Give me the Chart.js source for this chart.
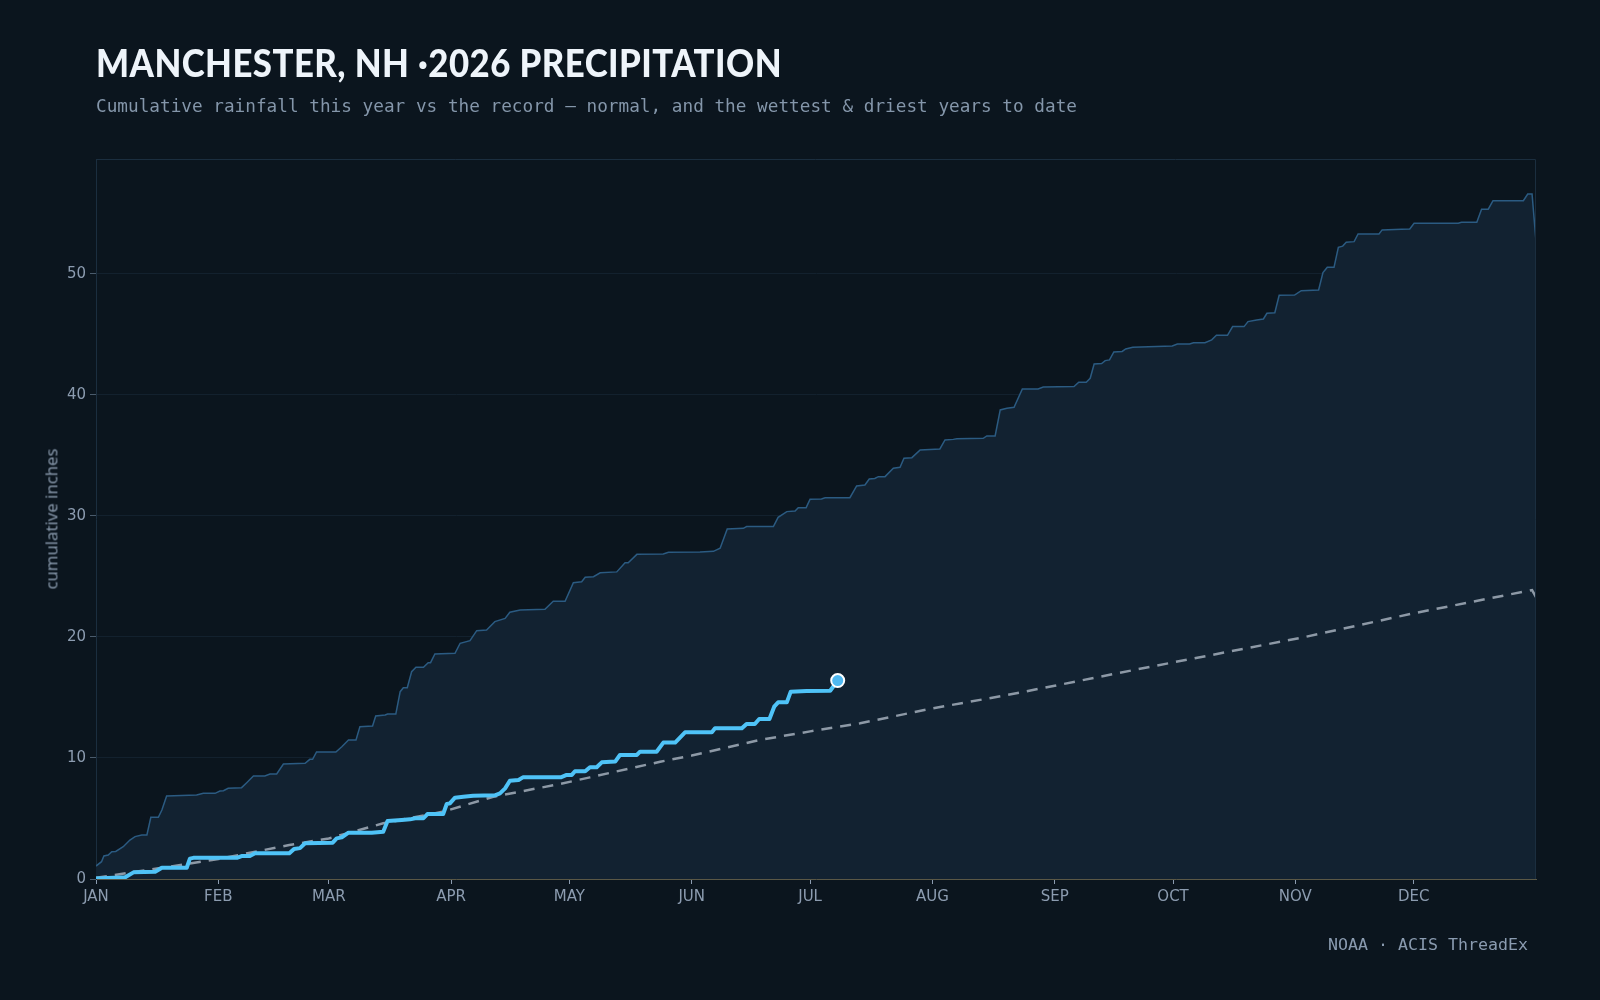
<!DOCTYPE html>
<html><head><meta charset="utf-8">
<script src="https://cdn.jsdelivr.net/npm/chart.js@4.4.1/dist/chart.umd.min.js"></script>
<style>
html,body{margin:0;padding:0;background:#0b151e;}
#wrap{position:relative;width:1600px;height:1000px;overflow:hidden;background:#0b151e;}
#c{position:absolute;left:0;top:0;}
.t{position:absolute;white-space:nowrap;transform-origin:0 0;margin:0;}
#title{left:96px;top:38.5px;font-family:Lato,"DejaVu Sans",sans-serif;font-weight:900;font-size:38.6px;line-height:1.2;letter-spacing:0.5px;color:#eef4fa;}
#sub{left:96px;top:95.5px;font-family:"DejaVu Sans Mono",monospace;font-size:17.7px;line-height:1.164;color:#8496aa;}
#foot{left:1328px;top:934.5px;font-family:"DejaVu Sans Mono",monospace;font-size:16.6px;line-height:1.164;color:#8a9bb0;}
#ytitle{left:52px;top:519px;font-family:"Noto Sans",sans-serif;font-size:16px;line-height:1.2;color:#8494a7;transform-origin:50% 50%;}
</style></head>
<body><div id="wrap">
<canvas id="c" width="1600" height="1000"></canvas>
<div class="t" id="title">MANCHESTER, NH ·2026 PRECIPITATION</div>
<div class="t" id="sub">Cumulative rainfall this year vs the record — normal, and the wettest &amp; driest years to date</div>
<div class="t" id="foot">NOAA · ACIS ThreadEx</div>
<div class="t" id="ytitle">cumulative inches</div>
</div>
<script>
const monthStarts=[0,31,59,90,120,151,181,212,243,273,304,334];
const monthLabels=['JAN','FEB','MAR','APR','MAY','JUN','JUL','AUG','SEP','OCT','NOV','DEC'];
const yTicks=[0,10,20,30,40,50];

const wetDays=[0,1.4,2,3.1,4,5,6.9,8.6,9.9,11.6,12.9,13.9,15.8,16.7,17.9,25.5,27.2,30.2,31.4,32.3,33.5,36.9,38.2,39.9,42.8,44.1,45.8,47.5,53,54.2,54.9,55.9,60.8,62.3,64,65.9,66.9,70.1,70.9,73.3,73.9,76,77.1,77.9,78.9,80,81.1,83,84.2,84.8,85.9,91,92.3,94.8,96.5,99,101.1,103.7,104.9,107.5,113.8,115.9,118.9,121,123.1,124,126.1,127.8,132,134.1,134.9,137.1,143.8,145.1,153.1,156.5,158.2,160,164.1,164.9,171.7,172.9,175.1,177.2,178,180,181,183.9,184.8,191.1,192.8,194.9,196,197.4,198.3,200,202.1,203.8,204.8,206.8,208.9,213.9,215.2,217.3,218.2,224.9,225.8,227.9,229.2,230.9,232.7,234.8,238.8,240.1,247.9,249.1,251,252,253,254.9,255.8,256.9,258,260.1,261,262.8,272.8,274.1,277.2,278.2,281.1,282.8,284,286.8,288.1,291,292,294.2,295.9,296.8,298.8,299.9,303.8,305.5,309.9,311,312.1,313.8,314.9,316,316.9,318.9,319.9,325.2,326,330.9,333,334.1,345.3,346.1,350,351.2,352.9,354.1,361.8,362.9,364,365];
const wetVals=[1.07,1.43,1.9,1.98,2.26,2.28,2.67,3.22,3.5,3.64,3.64,5.1,5.1,5.7,6.86,6.94,7.08,7.08,7.27,7.3,7.5,7.55,7.96,8.51,8.51,8.68,8.68,9.5,9.56,9.89,9.89,10.5,10.5,10.93,11.49,11.49,12.59,12.64,13.47,13.55,13.64,13.64,15.48,15.81,15.81,17.13,17.5,17.5,17.88,17.88,18.6,18.65,19.48,19.7,20.52,20.57,21.27,21.54,22.04,22.23,22.29,22.95,22.95,24.49,24.57,24.93,24.98,25.3,25.38,26.14,26.14,26.83,26.86,27.0,27.03,27.08,27.33,28.93,28.98,29.12,29.12,29.89,30.36,30.41,30.69,30.69,31.38,31.4,31.51,31.51,32.48,32.56,33.06,33.1,33.25,33.25,33.94,34.02,34.77,34.82,35.45,35.54,36.28,36.33,36.39,36.42,36.61,36.61,38.76,38.9,38.98,40.5,40.5,40.66,40.7,41.05,41.05,41.38,42.56,42.6,42.84,42.9,43.55,43.6,43.8,43.94,44.05,44.21,44.21,44.32,44.32,44.55,44.93,44.93,45.65,45.65,46.06,46.2,46.28,46.75,46.8,48.24,48.26,48.62,48.68,50.11,50.55,50.55,52.2,52.3,52.62,52.67,53.3,53.3,53.64,53.69,53.72,54.19,54.19,54.27,54.27,55.35,55.35,56.06,56.06,56.61,56.61,52.7];

const normDays=[0,23,31,49,59,72.8,88,100.7,117.6,125.2,143,151,168.3,181,193.7,212,229.6,243,258.8,273,306,334,364,365];
const normVals=[0.1,1.24,1.65,2.81,3.35,4.6,5.56,6.8,7.85,8.4,9.69,10.2,11.49,12.2,12.87,14.1,15.12,15.97,17.0,17.9,19.97,21.96,23.88,23.3];

const yearDays=[0,7.4,9.5,15,16.7,23,23.8,24.7,35.7,36.9,39,40.3,49,50.2,51.7,53,60,61,62.3,64,69.9,72.8,73.9,77.5,79.6,80.9,83,84,88,88.9,89.7,91,93.1,95.6,101.1,102.4,103.7,104.9,107.1,108.2,117.8,119.3,120.6,121.4,124,125.2,126.9,128.2,131.6,132.8,137.1,137.9,142.1,143.8,146.8,149.3,156.1,156.9,163.7,164.9,167,168.1,170.7,171.9,172.9,175.1,176.1,180.1,186.1,188];
const yearVals=[0.05,0.14,0.55,0.6,0.93,0.93,1.68,1.75,1.75,1.9,1.9,2.12,2.12,2.48,2.55,2.95,3.0,3.36,3.44,3.83,3.83,3.91,4.79,4.88,4.93,5.02,5.02,5.37,5.37,6.2,6.25,6.72,6.8,6.88,6.92,7.08,7.49,8.12,8.18,8.4,8.4,8.6,8.6,8.9,8.9,9.23,9.23,9.64,9.7,10.25,10.25,10.52,10.52,11.27,11.27,12.12,12.12,12.45,12.45,12.81,12.81,13.22,13.22,14.24,14.6,14.6,15.48,15.54,15.56,16.4];

const pts=(d,v)=>d.map((x,i)=>({x:x,y:v[i]}));

function fitText(id,target,extra){
  const el=document.getElementById(id);
  const w=el.getBoundingClientRect().width;
  const s=target/w;
  el.style.transform=(extra||'')+' scaleX('+s+')';
}
fitText('title',686);
fitText('sub',981);
(function(){const el=document.getElementById('foot');const w=el.getBoundingClientRect().width;const s=200/w;el.style.left=(1528-200)+'px';el.style.transform='scaleX('+s+')';})();
fitText('ytitle',141,'translate(-50%,-50%) rotate(-90deg)');

const frame={id:'frame',afterDatasetsDraw(chart){const a=chart.chartArea,c=chart.ctx;c.save();c.strokeStyle='#1b2e3f';c.lineWidth=1;c.beginPath();c.moveTo(a.left,a.top+0.5);c.lineTo(a.right-0.5,a.top+0.5);c.lineTo(a.right-0.5,a.bottom);c.stroke();c.restore();}};

new Chart(document.getElementById('c'),{
  type:'line',
  data:{datasets:[
    {label:'This year',data:pts(yearDays,yearVals),borderColor:'#4fc3f7',borderWidth:4,order:0,fill:false,
     pointRadius:c=>c.dataIndex===yearDays.length-1?6.5:0,pointBackgroundColor:'#4fb8f0',pointBorderColor:'#ffffff',pointBorderWidth:2,borderJoinStyle:'round',borderCapStyle:'round'},
    {label:'Normal',data:pts(normDays,normVals),borderColor:'#8d99a6',borderWidth:2.5,borderDash:[11,8],pointRadius:0,order:1,fill:false},
    {label:'Wettest',data:pts(wetDays,wetVals),borderColor:'#2b5b82',borderWidth:1.5,backgroundColor:'#122231',fill:'origin',pointRadius:0,order:2}
  ]},
  options:{
    responsive:false,animation:false,events:[],
    layout:{padding:{left:0,right:64,top:159,bottom:81}},
    plugins:{legend:{display:false},tooltip:{enabled:false},title:{display:false}},
    scales:{
      x:{type:'linear',min:0,max:365,
        afterBuildTicks:s=>{s.ticks=monthStarts.map(v=>({value:v}));},
        afterFit:s=>{s.height=40;},
        ticks:{color:'#8c9cb0',font:{family:'DejaVu Sans',size:15},padding:4,maxRotation:0,autoSkip:false,
          callback:v=>monthLabels[monthStarts.indexOf(v)]},
        grid:{drawOnChartArea:false,drawTicks:true,tickLength:5,tickColor:'#8c9cb0'},
        border:{color:'#5a5846',width:1}},
      y:{type:'linear',min:0,max:59.5,
        afterBuildTicks:s=>{s.ticks=yTicks.map(v=>({value:v}));},
        afterFit:s=>{s.width=96;},
        ticks:{color:'#8c9cb0',font:{family:'DejaVu Sans',size:15},padding:4},
        grid:{color:'#13212e',tickColor:'#4a5b6c',tickLength:6},
        border:{color:'#1b2e3f'}}
    }
  },
  plugins:[frame]
});
</script>
</body></html>
